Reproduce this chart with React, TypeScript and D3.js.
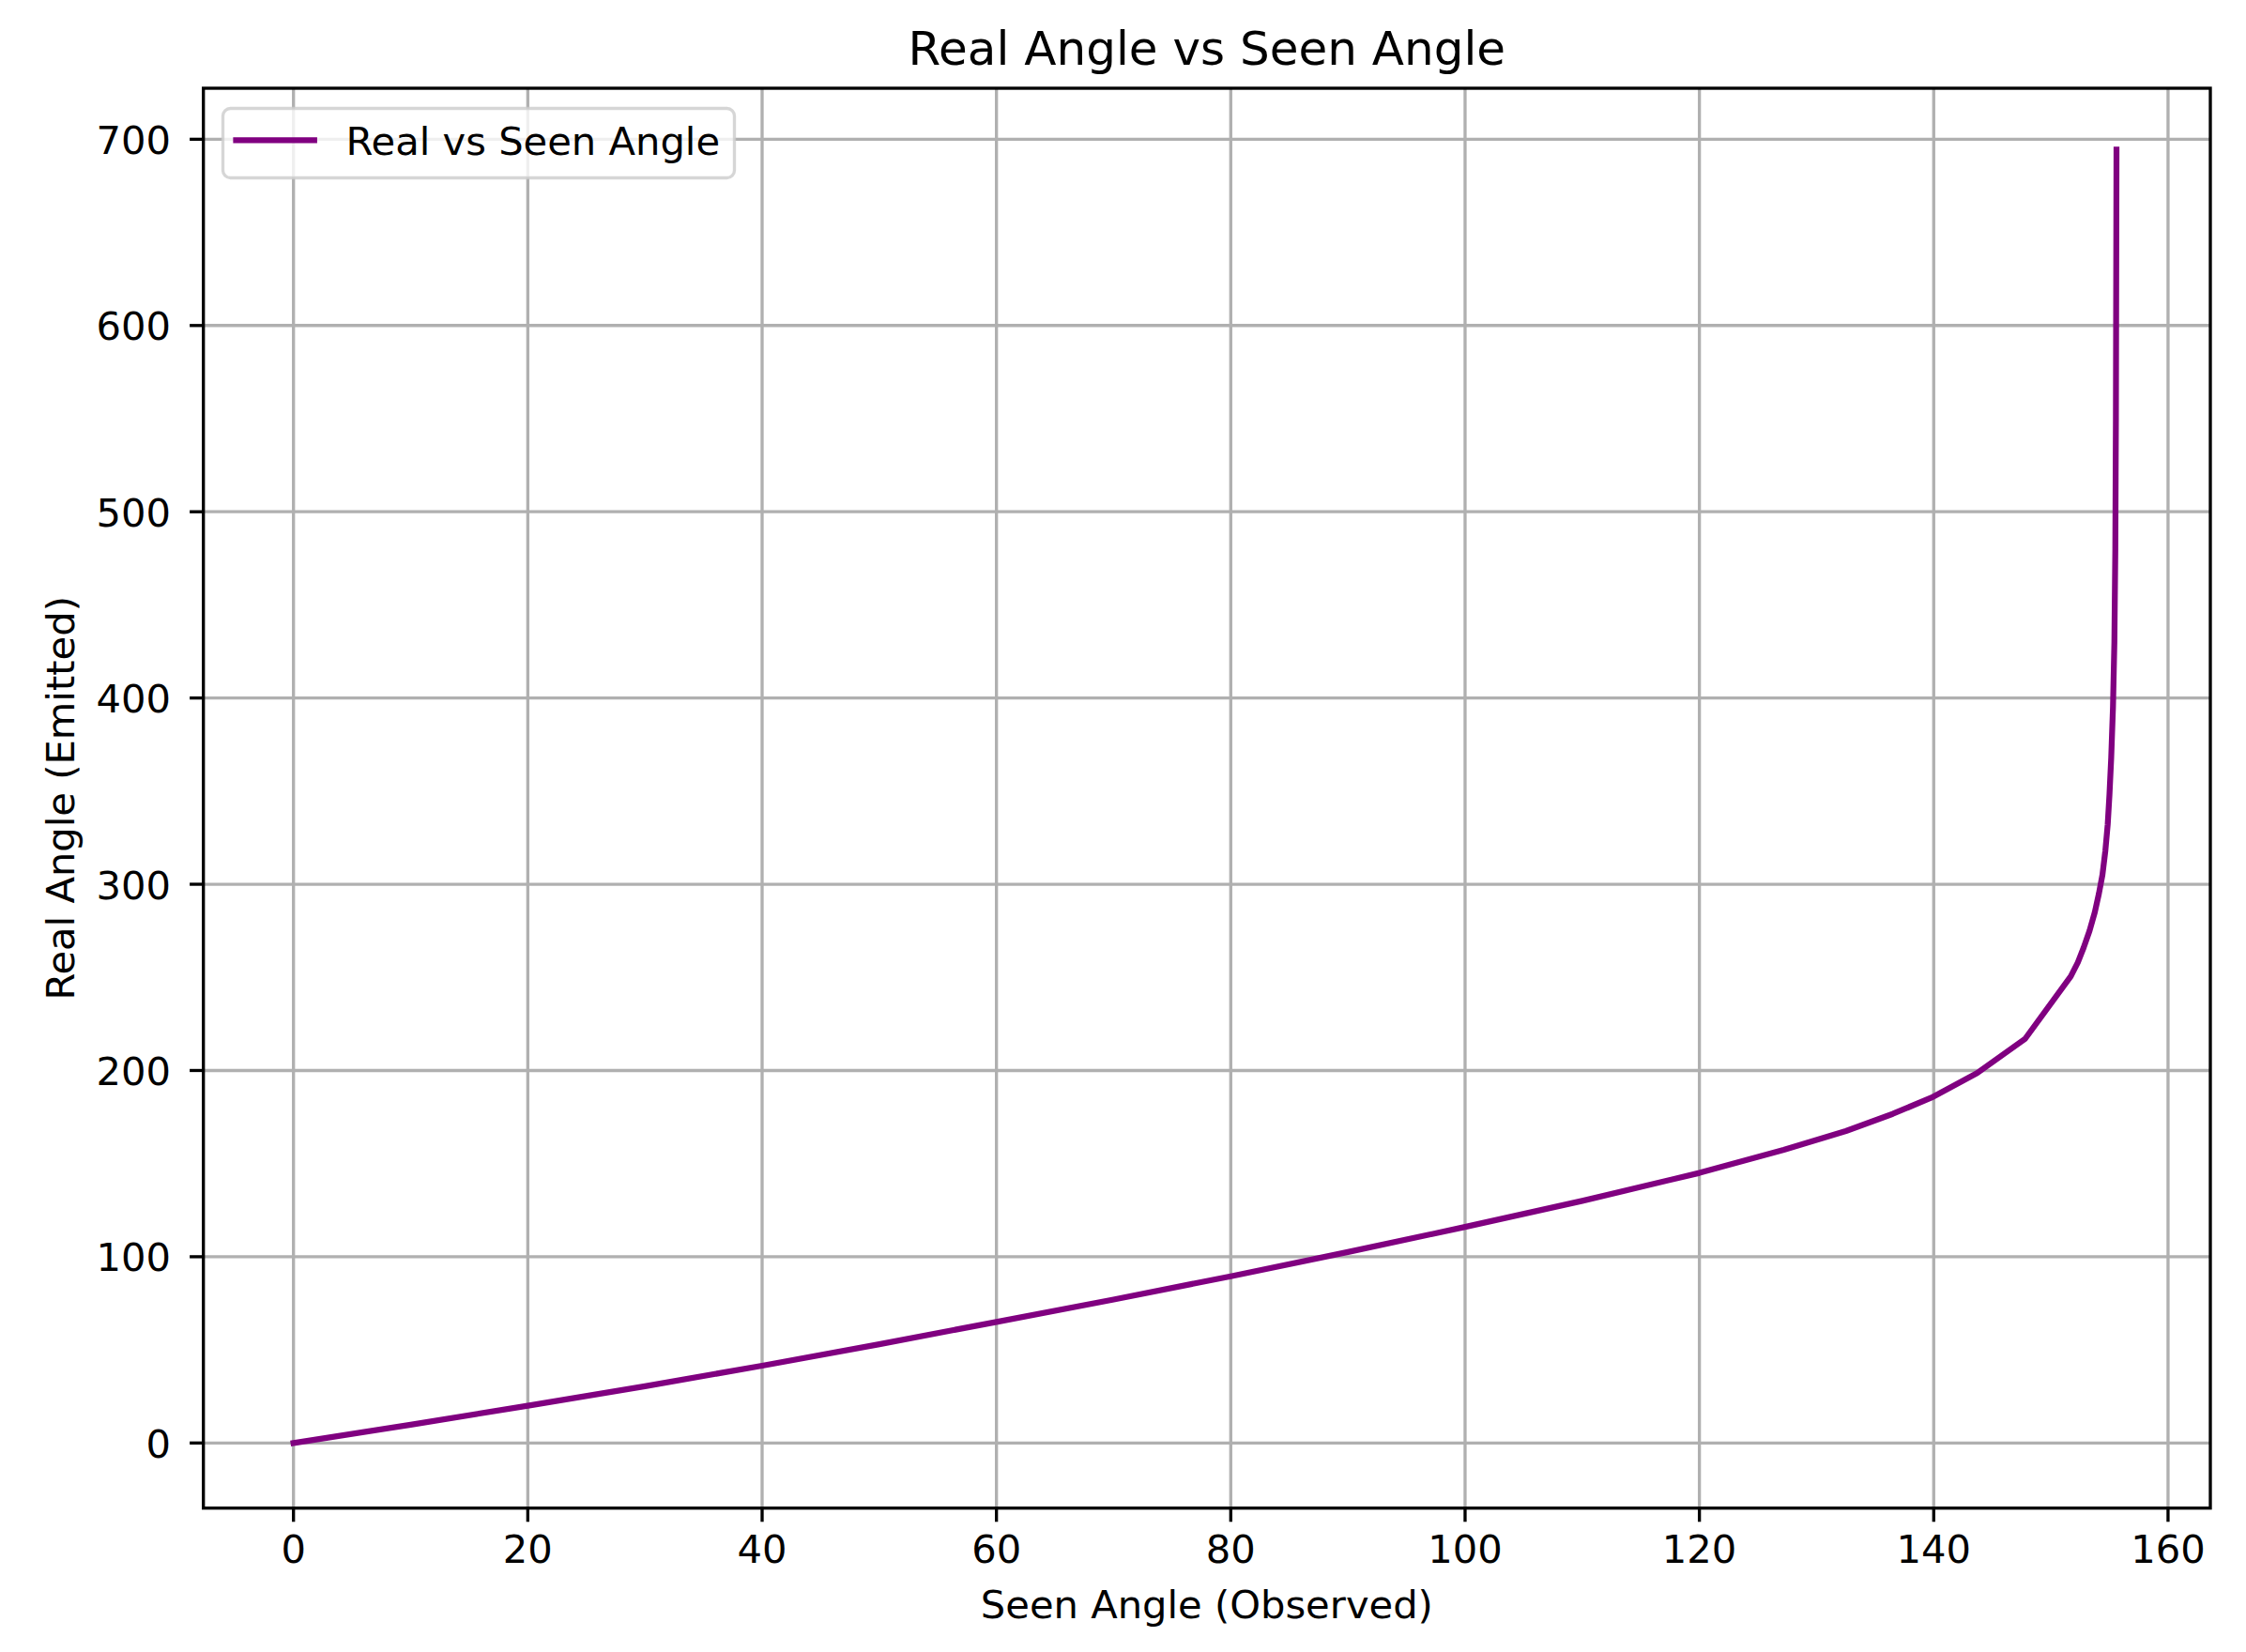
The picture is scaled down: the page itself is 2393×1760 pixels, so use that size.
import React, { useEffect } from "react";
import * as d3 from "d3";

// Data
const seenAngle = [0, 10, 20, 30, 40, 50, 60, 70, 80, 90, 100, 110, 120, 127.2, 132.5, 136.5, 139.8, 143.7, 147.8, 151.7, 152.3, 152.8, 153.3, 153.75, 154.1, 154.4, 154.65, 154.85, 155.0, 155.15, 155.3, 155.42, 155.5, 155.55, 155.6];
const realAngle = [0, 9.8, 20, 30.5, 41.5, 53, 65, 77, 89.5, 102.5, 116, 130, 145, 157.4, 167.5, 176.7, 185.4, 198.6, 217, 250.6, 258, 266, 275, 285, 295, 305, 318, 332, 348, 368, 395, 430, 480, 550, 694.4];
const xTicks = [0, 20, 40, 60, 80, 100, 120, 140, 160];
const yTicks = [0, 100, 200, 300, 400, 500, 600, 700];
const titleText = "Real Angle vs Seen Angle";
const xLabelText = "Seen Angle (Observed)";
const yLabelText = "Real Angle (Emitted)";
const legendText = "Real vs Seen Angle";

const W = 2393;
const H = 1760;
const L = 216.7, R = 2355, T = 94, B = 1606.7;
const FONT = "'DejaVu Sans', sans-serif";

export default function App() {
  useEffect(() => {
    document.body.style.margin = "0";
  }, []);

  const x = d3.scaleLinear().domain([-7.69, 163.61]).range([L, R]);
  const y = d3.scaleLinear().domain([-34.97, 727.4]).range([B, T]);
  const pts: [number, number][] = seenAngle.map((s, i) => [s, realAngle[i]]);
  const line = d3.line<[number, number]>().x((d) => x(d[0])).y((d) => y(d[1]));

  const gridColor = "#b0b0b0";
  const lw = 3.33;
  const tickLen = 14.6;

  return (
    <svg width={W} height={H} style={{ position: "fixed", left: 0, top: 0, background: "#fff" }} fontFamily={FONT}>
      <rect x={0} y={0} width={W} height={H} fill="#ffffff" />
      {/* grid */}
      {xTicks.map((t) => (
        <line key={"gx" + t} x1={x(t)} x2={x(t)} y1={T} y2={B} stroke={gridColor} strokeWidth={lw} />
      ))}
      {yTicks.map((t) => (
        <line key={"gy" + t} x1={L} x2={R} y1={y(t)} y2={y(t)} stroke={gridColor} strokeWidth={lw} />
      ))}
      {/* curve */}
      <path d={line(pts) || ""} fill="none" stroke="#800080" strokeWidth={6.25} strokeLinecap="square" strokeLinejoin="round" />
      {/* spines */}
      <rect x={L} y={T} width={R - L} height={B - T} fill="none" stroke="#000" strokeWidth={lw} strokeLinejoin="miter" />
      {/* x ticks */}
      {xTicks.map((t) => (
        <g key={"xt" + t}>
          <line x1={x(t)} x2={x(t)} y1={B} y2={B + tickLen} stroke="#000" strokeWidth={lw} />
          <text x={x(t)} y={1665} fontSize={41.67} textAnchor="middle" fill="#000">{t}</text>
        </g>
      ))}
      {/* y ticks */}
      {yTicks.map((t) => (
        <g key={"yt" + t}>
          <line x1={L - tickLen} x2={L} y1={y(t)} y2={y(t)} stroke="#000" strokeWidth={lw} />
          <text x={182} y={y(t) + 15.5} fontSize={41.67} textAnchor="end" fill="#000">{t}</text>
        </g>
      ))}
      {/* title and labels */}
      <text x={(L + R) / 2} y={69} fontSize={50} textAnchor="middle" fill="#000">{titleText}</text>
      <text x={(L + R) / 2} y={1724} fontSize={41.67} textAnchor="middle" fill="#000">{xLabelText}</text>
      <text transform={`translate(79, ${(T + B) / 2}) rotate(-90)`} fontSize={41.67} textAnchor="middle" fill="#000">{yLabelText}</text>
      {/* legend */}
      <rect x={237.5} y={115.5} width={545} height={74} rx={8} ry={8} fill="#ffffff" fillOpacity={0.8} stroke="#cccccc" strokeOpacity={0.8} strokeWidth={3.33} />
      <line x1={251.5} x2={334.8} y1={149.3} y2={149.3} stroke="#800080" strokeWidth={6.25} strokeLinecap="square" />
      <text x={368.5} y={165} fontSize={41.67} fill="#000">{legendText}</text>
    </svg>
  );
}
